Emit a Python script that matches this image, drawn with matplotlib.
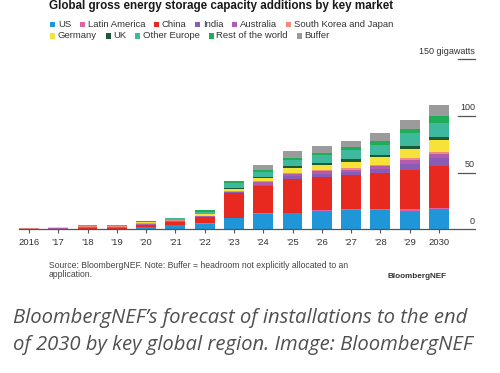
import matplotlib
matplotlib.use('Agg')
import matplotlib.pyplot as plt
import matplotlib.transforms as mtransforms
from matplotlib.patches import Rectangle
import numpy as np

plt.rcParams['font.family'] = ['Liberation Sans', 'DejaVu Sans']

# --- data (GW) ---
years = ['2016', '’17', '’18', '’19', '’20', '’21', '’22', '’23',
         '’24', '’25', '’26', '’27', '’28', '’29', '2030']

us        = [0.3, 0.4, 0.5, 0.6, 2.3, 3.6, 5.0, 9.7, 13.5, 14.3, 16.5, 17.0, 17.0, 16.4, 17.5]
latam     = [0.0, 0.0, 0.1, 0.1, 0.1, 0.1, 0.2, 0.2, 0.5, 0.5, 0.5, 1.0, 1.0, 1.2, 1.2]
china     = [0.1, 0.3, 0.8, 0.7, 1.6, 3.0, 6.0, 22.5, 24.0, 30.0, 29.4, 30.3, 31.8, 34.7, 37.3]
india     = [0.0, 0.0, 0.0, 0.1, 0.1, 0.1, 0.0, 0.3, 1.5, 2.0, 2.5, 2.5, 3.5, 5.5, 7.0]
australia = [0.0, 0.1, 0.2, 0.3, 0.4, 0.3, 0.2, 0.4, 2.0, 2.3, 2.4, 1.9, 2.3, 3.3, 3.5]
kor_jpn   = [0.4, 0.6, 1.2, 0.8, 1.0, 0.8, 0.3, 0.8, 1.0, 1.0, 1.0, 1.5, 1.5, 1.5, 2.0]
germany   = [0.1, 0.2, 0.3, 0.3, 0.6, 0.5, 2.0, 2.0, 3.0, 4.4, 4.4, 5.6, 6.8, 8.5, 10.3]
uk        = [0.0, 0.0, 0.2, 0.2, 0.2, 0.2, 0.2, 0.3, 1.0, 1.5, 2.0, 2.4, 2.0, 2.4, 2.4]
other_eu  = [0.1, 0.1, 0.2, 0.3, 0.3, 1.2, 1.6, 5.0, 4.2, 5.3, 6.5, 7.6, 8.8, 11.2, 12.9]
rest      = [0.2, 0.2, 0.3, 0.4, 0.3, 0.6, 1.3, 1.5, 1.2, 1.5, 1.8, 2.6, 2.9, 3.5, 6.2]
buffer    = [0.0, 0.0, 0.0, 0.0, 0.0, 0.0, 0.0, 0.0, 4.4, 6.2, 6.4, 5.9, 7.4, 8.2, 9.4]

series = [
    ('US', us, '#1f96d8'),
    ('Latin America', latam, '#d964a8'),
    ('China', china, '#e8291f'),
    ('India', india, '#8a5cb6'),
    ('Australia', australia, '#b25cae'),
    ('South Korea and Japan', kor_jpn, '#f08a7c'),
    ('Germany', germany, '#f7e23a'),
    ('UK', uk, '#1b5a35'),
    ('Other Europe', other_eu, '#3fb99e'),
    ('Rest of the world', rest, '#1fae57'),
    ('Buffer', buffer, '#9b9b9b'),
]

W, H = 500, 373
fig = plt.figure(figsize=(5, 3.73), dpi=100)


def fx(px):
    return px / W


def fy(py):
    return 1 - py / H


ax = fig.add_axes([fx(19), fy(229.3), fx(475) - fx(19), fy(59.3) - fy(229.3)])

x = np.arange(len(years))
bottom = np.zeros(len(years))
for name, vals, col in series:
    vals = np.array(vals)
    ax.bar(x, vals, 0.68, bottom=bottom, color=col, linewidth=0)
    bottom += vals

ax.set_xlim(-0.34, 15.23)
ax.set_ylim(0, 150)
for s in ['top', 'left', 'right']:
    ax.spines[s].set_visible(False)
ax.spines['bottom'].set_color('#555555')
ax.spines['bottom'].set_linewidth(0.9)
ax.set_yticks([])
ax.set_xticks(x, years)
ax.tick_params(axis='x', length=3, width=0.8, color='#555555',
               labelsize=6.8, labelcolor='#333333', pad=3)

# right-hand value labels sitting on short lines
trans = mtransforms.blended_transform_factory(ax.transAxes, ax.transData)
lab_trans = mtransforms.offset_copy(trans, fig=fig, x=0, y=2.5, units='points')
for v in [0, 50, 100, 150]:
    txt = '150 gigawatts' if v == 150 else str(v)
    ax.text(1.0, v, txt, transform=lab_trans, ha='right', va='bottom',
            fontsize=6.5, color='#333333')
    if v > 0:
        ax.plot([1 - 0.037, 1.0], [v, v], transform=trans, color='#555555',
                lw=0.9, clip_on=False)

# title
fig.text(fx(49), fy(9), 'Global gross energy storage capacity additions by key market',
         fontsize=8.4, fontweight='bold', color='#1a1a1a', va='baseline')

# legend, laid out by hand in two rows
fig.canvas.draw()
renderer = fig.canvas.get_renderer()
rows = [series[:6], series[6:]]
row_y = [24.5, 36]
for items, yc in zip(rows, row_y):
    xp = 50
    for name, vals, col in items:
        fig.patches.append(Rectangle((fx(xp), fy(yc + 2.6)), fx(5.2), 5.2 / H,
                                     transform=fig.transFigure, color=col, lw=0))
        t = fig.text(fx(xp + 8), fy(yc), name, fontsize=6.8, color='#333333',
                     va='center', ha='left')
        w = t.get_window_extent(renderer).width
        xp += 8 + w + 8.5

# source note
fig.text(fx(49), fy(265), 'Source: BloombergNEF. Note: Buffer = headroom not explicitly allocated to an',
         fontsize=6.2, color='#444444', va='center')
fig.text(fx(49), fy(274.5), 'application.', fontsize=6.2, color='#444444', va='center')
fig.text(fx(446), fy(276), 'BloombergNEF', fontsize=5.9, fontweight='bold',
         color='#333333', va='center', ha='right')

# caption
cap_font = ['Open Sans', 'DejaVu Sans']
fig.text(fx(13), fy(318), 'BloombergNEF’s forecast of installations to the end',
         fontsize=14.6, style='italic', family=cap_font, color='#505050', va='center')
fig.text(fx(13), fy(345), 'of 2030 by key global region. Image: BloombergNEF',
         fontsize=14.6, style='italic', family=cap_font, color='#505050', va='center')

fig.savefig('out.png', dpi=100)
